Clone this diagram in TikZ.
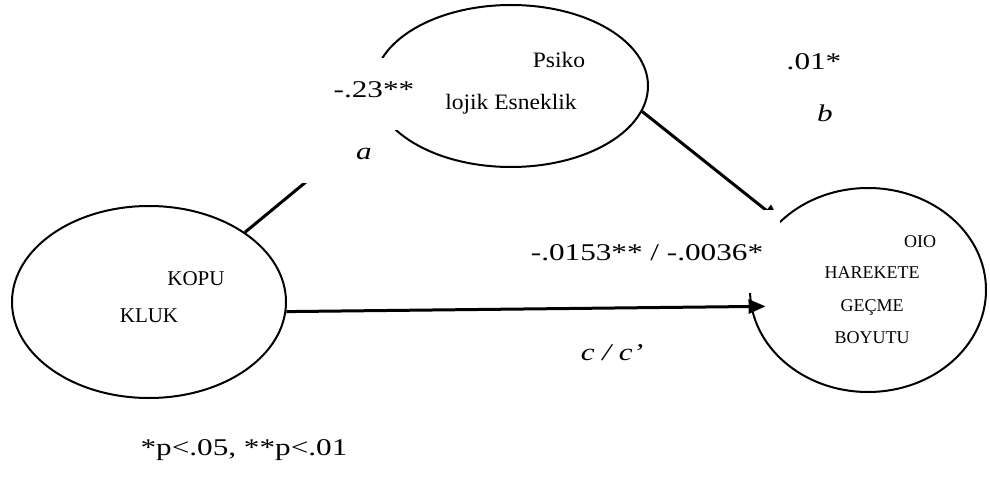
\documentclass[tikz,border=0pt]{standalone}
\usepackage{fontspec}
\setmainfont{Liberation Serif}
\newfontfamily\lblfont[FakeStretch=1.3]{Liberation Serif}
\newfontfamily\varfont[FakeStretch=1.07]{Liberation Serif}
\usetikzlibrary{arrows.meta,shapes.geometric}

\begin{document}
\begin{tikzpicture}[
  x=1pt, y=-1pt,
  var/.style={ellipse, draw=black, line width=2pt, inner sep=0pt},
  intxt/.style={anchor=base, inner sep=0pt, font=\fontsize{21}{25}\selectfont},
  bigtxt/.style={intxt, font=\varfont\fontsize{22}{26}\selectfont},
  smalltxt/.style={intxt, font=\fontsize{18}{22}\selectfont},
  lbl/.style={anchor=base, inner sep=0pt, font=\lblfont\fontsize{24}{29}\selectfont},
  mask/.style={lbl, fill=white},
  arrow/.style={-{Triangle[length=17pt,width=14pt]}, line width=3pt}
]
\useasboundingbox (0,0) rectangle (990,484);
% variables
\node[var, minimum width=274pt, minimum height=162pt] (psiko) at (511,86) {};
\node[var, minimum width=274pt, minimum height=192pt] (kopu) at (149,302) {};
\node[var, minimum width=236pt, minimum height=204pt] (oio) at (868,290) {};
\node[bigtxt] (psiko1) at (559,68) {Psiko};
\node[bigtxt] (psiko2) at (511,110) {lojik Esneklik};
\node[intxt] (kopu1) at (196,285) {KOPU};
\node[intxt] (kopu2) at (149,322) {KLUK};
\node[smalltxt] (oio1) at (920,247) {OIO};
\node[smalltxt] (oio2) at (872,278) {HAREKETE};
\node[smalltxt] (oio3) at (872,311) {GEÇME};
\node[smalltxt] (oio4) at (872,343) {BOYUTU};
% paths
\draw[arrow] (kopu.36) -- (psiko.194);
\draw[arrow] (psiko.-11) -- (oio.142);
\draw[arrow, shorten >=-15pt] (kopu.-4) -- (oio.188);
% coefficients
\node[mask, text height=40pt, text depth=32pt, inner xsep=8pt] (ia) at (374,98) {-.23**};
\node[mask, anchor=base east, text height=30pt, text depth=23pt, inner xsep=8pt, text width=80pt, align=right] (ila) at (380,160) {\textit{a}};
\node[lbl] (ib) at (814,70) {.01*};
\node[lbl] (ilb) at (825,122) {\textit{b}};
\node[mask, text height=50pt, text depth=33pt, minimum width=266pt] (ic) at (647,260) {-.0153** / -.0036*};
\node[lbl] (ilc) at (612,360) {\textit{c / c’}};
\node[lbl] (note) at (244,455) {*p<.05, **p<.01};
\end{tikzpicture}
\end{document}
